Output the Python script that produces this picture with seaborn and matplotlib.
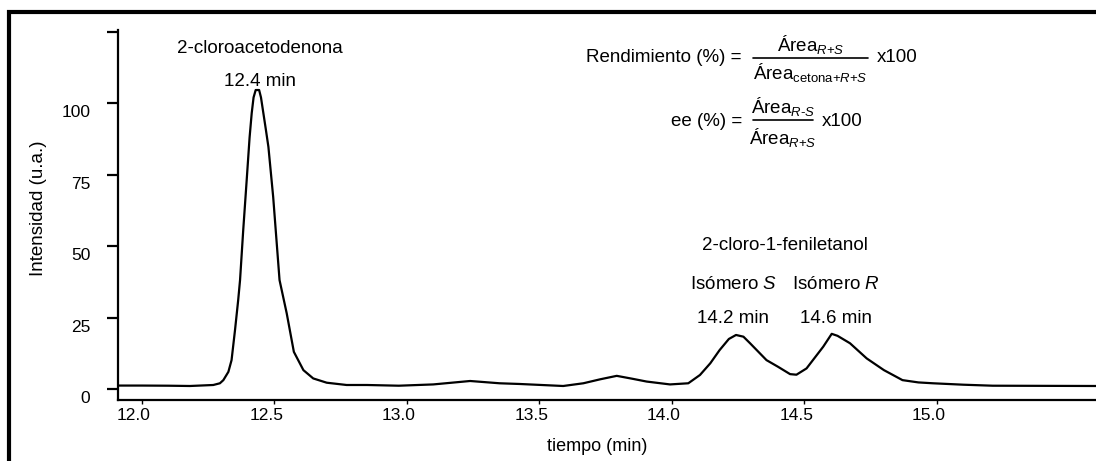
import matplotlib
matplotlib.use("Agg")
import matplotlib.pyplot as plt
import matplotlib.transforms as mtransforms
from matplotlib.lines import Line2D
import seaborn as sns

# chromatogram trace (time in min, intensity in u.a.)
tiempo = [11.91, 12.0, 12.1, 12.182, 12.27, 12.295, 12.308, 12.327, 12.339, 12.352,
          12.364, 12.371, 12.383, 12.396, 12.407, 12.415, 12.422, 12.43, 12.443,
          12.45, 12.459, 12.468, 12.478, 12.496, 12.52, 12.547, 12.574, 12.61,
          12.647, 12.698, 12.773, 12.85, 12.97, 13.1, 13.239, 13.35, 13.427,
          13.59, 13.666, 13.73, 13.792, 13.85, 13.905, 13.993, 14.062, 14.106,
          14.145, 14.18, 14.215, 14.242, 14.27, 14.295, 14.357, 14.40, 14.446,
          14.47, 14.508, 14.571, 14.603, 14.625, 14.672, 14.735, 14.8, 14.87,
          14.93, 14.985, 15.1, 15.21, 15.4, 15.6]
intensidad = [1.2, 1.2, 1.15, 1.05, 1.4, 2.0, 3.1, 6.0, 10.1, 20.6,
              31.1, 38.1, 55.6, 73.0, 88.0, 96.5, 102.0, 104.6, 104.6,
              102.0, 96.5, 91.0, 84.7, 67.2, 38.1, 26.5, 13.0, 6.6,
              3.7, 2.2, 1.4, 1.4, 1.15, 1.6, 2.8, 2.0, 1.75,
              1.05, 2.0, 3.4, 4.6, 3.6, 2.6, 1.6, 2.0, 4.9,
              9.0, 13.6, 17.5, 18.9, 18.3, 16.0, 10.1, 7.8, 5.2,
              5.0, 7.2, 14.8, 19.3, 18.6, 16.0, 10.7, 6.6, 3.1,
              2.3, 2.0, 1.5, 1.15, 1.1, 1.05]

xticks = [12.0, 12.5, 13.0, 13.5, 14.0, 14.5, 15.0]
yticks = [0, 25, 50, 75, 100, 125]
ytick_labels = ["0", "25", "50", "75", "100", ""]

sns.set_theme(style="white")
plt.rcParams["font.family"] = ["Liberation Sans", "DejaVu Sans"]
plt.rcParams["mathtext.fontset"] = "custom"
plt.rcParams["mathtext.rm"] = "Liberation Sans"
plt.rcParams["mathtext.it"] = "Liberation Sans:italic"
plt.rcParams["text.color"] = "black"
plt.rcParams["axes.labelcolor"] = "black"

W, H = 1096, 461
fig = plt.figure(figsize=(W / 100, H / 100), dpi=100)
ax = fig.add_axes([118 / W, 1 - 400 / H, (W - 118) / W, 370 / H])

sns.lineplot(x=tiempo, y=intensidad, color="black", lw=1.6, ax=ax)

ax.set_xlim(11.9106, 15.6)
ax.set_ylim(-3.85, 125.6)
ax.set_xticks(xticks)
ax.set_xticklabels([f"{t:.1f}" for t in xticks])
ax.set_yticks(yticks)
ax.set_yticklabels(ytick_labels)

for side in ["top", "right"]:
    ax.spines[side].set_visible(False)
for side in ["left", "bottom"]:
    ax.spines[side].set_linewidth(1.6)
    ax.spines[side].set_color("black")

fs = 13.5
ax.tick_params(axis="y", direction="out", length=8, width=1.6, pad=12,
               labelsize=12.5, colors="black", left=True)
ax.tick_params(axis="x", direction="out", length=3, width=1.0, pad=2.5,
               labelsize=12.5, colors="black", bottom=True)

# labels sit a little off their ticks in the original
dx = mtransforms.ScaledTranslation(-0.08, 0, fig.dpi_scale_trans)
dy = mtransforms.ScaledTranslation(0, -0.08, fig.dpi_scale_trans)
for lbl in ax.get_xticklabels():
    lbl.set_transform(lbl.get_transform() + dx)
for lbl in ax.get_yticklabels():
    lbl.set_transform(lbl.get_transform() + dy)

ax.set_xlabel("tiempo (min)", fontsize=13)
ax.set_ylabel("Intensidad (u.a.)", fontsize=fs)
ax.xaxis.set_label_coords(0.49, -0.103)
ax.yaxis.set_label_coords(-0.073, 0.519)

# peak annotations
ax.text(12.445, 119, "2-cloroacetodenona", ha="center", va="center", fontsize=fs)
ax.text(12.445, 107.7, "12.4 min", ha="center", va="center", fontsize=fs)
ax.text(14.428, 50.3, "2-cloro-1-feniletanol", ha="center", va="center", fontsize=fs)
ax.text(14.234, 36.4, "Isómero $\\it{S}$", ha="center", va="center", fontsize=fs)
ax.text(14.618, 36.4, "Isómero $\\it{R}$", ha="center", va="center", fontsize=fs)
ax.text(14.232, 24.7, "14.2 min", ha="center", va="center", fontsize=fs)
ax.text(14.618, 24.7, "14.6 min", ha="center", va="center", fontsize=fs)


def fx(px):
    return px / W


def fy(py):
    return 1 - py / H


# formulas
fig.text(fx(742), fy(58), "Rendimiento (%) =", ha="right", va="center", fontsize=fs)
fig.text(fx(811), fy(45), "Área$_{R\\text{+}S}$", ha="center", va="center", fontsize=fs)
fig.text(fx(810), fy(73), "Área$_{\\mathrm{cetona}\\text{+}R\\text{+}S}$",
         ha="center", va="center", fontsize=fs)
fig.add_artist(Line2D([fx(753), fx(868)], [fy(58), fy(58)], color="black", lw=1.2))
fig.text(fx(877), fy(58), "x100", ha="left", va="center", fontsize=fs)

fig.text(fx(742), fy(122), "ee (%) =", ha="right", va="center", fontsize=fs)
fig.text(fx(783), fy(107), "Área$_{R\\text{-}S}$", ha="center", va="center", fontsize=fs)
fig.text(fx(783), fy(137), "Área$_{R\\text{+}S}$", ha="center", va="center", fontsize=fs)
fig.add_artist(Line2D([fx(753), fx(813)], [fy(120), fy(120)], color="black", lw=1.2))
fig.text(fx(822), fy(122), "x100", ha="left", va="center", fontsize=fs)

# outer frame (left and top edges only are visible)
fig.add_artist(Line2D([fx(8.8), fx(8.8), 1.0], [0.0, fy(12), fy(12)],
                      color="black", lw=3.0, solid_joinstyle="miter"))

fig.savefig("out.png", dpi=100)
